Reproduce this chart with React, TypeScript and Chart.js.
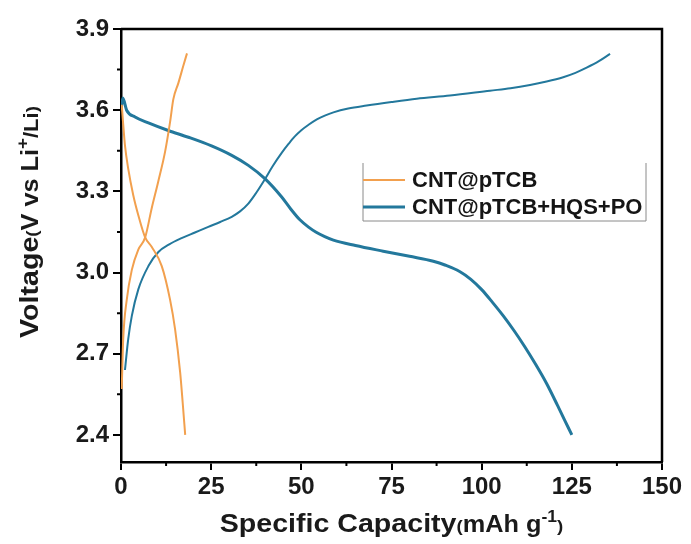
import React, { useEffect, useRef } from "react";
import { Chart, registerables } from "chart.js";

Chart.register(...registerables);

// ---------- data ----------
const seriesNames = ["CNT@pTCB", "CNT@pTCB+HQS+PO"];

const orangeChargeCap = [0.2, 0.6, 1.6, 3.0, 4.8, 6.7, 8.5, 10.3, 12.2, 13.6, 14.5, 15.9, 17.3, 18.3];
const orangeChargeV = [2.57, 2.75, 2.9, 3.01, 3.085, 3.13, 3.237, 3.335, 3.445, 3.556, 3.64, 3.7, 3.765, 3.81];

const orangeDischargeCap = [0.2, 0.6, 1.1, 2.0, 3.4, 4.8, 6.7, 8.5, 11.3, 13.6, 15.0, 16.4, 17.1, 17.8];
const orangeDischargeV = [3.62, 3.55, 3.47, 3.384, 3.286, 3.212, 3.13, 3.095, 3.024, 2.9, 2.79, 2.631, 2.52, 2.4];

const blueChargeCap = [1.1, 2.0, 3.0, 4.8, 7.6, 10.3, 13.5, 16.8, 20.5, 24.2, 27.5, 30.7, 33, 35.3, 37.5, 39.9, 42, 44.6, 46.5, 48.2, 50, 52, 54.3, 56.5, 58.9, 63, 68.1, 75, 82, 91.2, 102.3, 108, 113.4, 118, 122.6, 126, 129.1, 132.5, 135.6];
const blueChargeV = [2.64, 2.754, 2.84, 2.938, 3.024, 3.075, 3.105, 3.127, 3.148, 3.169, 3.187, 3.206, 3.226, 3.255, 3.295, 3.345, 3.392, 3.443, 3.476, 3.503, 3.526, 3.546, 3.566, 3.58, 3.592, 3.606, 3.617, 3.63, 3.642, 3.654, 3.672, 3.681, 3.693, 3.706, 3.722, 3.738, 3.757, 3.781, 3.808];

const blueDischargeCap = [0.0, 0.5, 1.6, 3.9, 7.6, 13.1, 18.7, 25.1, 30.7, 35.3, 39.9, 44.5, 47, 49.6, 52, 54, 56.5, 58.9, 65, 72.7, 80, 86.6, 90, 94, 97, 100, 103, 106, 109, 112, 115, 118, 121, 123, 125];
const blueDischargeV = [3.6, 3.645, 3.599, 3.575, 3.553, 3.525, 3.5, 3.468, 3.433, 3.396, 3.347, 3.28, 3.236, 3.195, 3.168, 3.15, 3.133, 3.12, 3.1, 3.079, 3.06, 3.042, 3.027, 3.003, 2.975, 2.937, 2.89, 2.84, 2.785, 2.725, 2.66, 2.59, 2.51, 2.455, 2.4];

const xMajorTicks = [0, 25, 50, 75, 100, 125, 150];
const xMinorTicks = [12.5, 37.5, 62.5, 87.5, 112.5, 137.5];
const yMajorTicks = [2.4, 2.7, 3.0, 3.3, 3.6, 3.9];
const yMinorTicks = [2.55, 2.85, 3.15, 3.45, 3.75];

const ORANGE = "#F2A04E";
const BLUE = "#23789C";
const FONT = '"Liberation Sans", Arial, sans-serif';

const toPts = (xs: number[], ys: number[]) => xs.map((x, i) => ({ x, y: ys[i] }));

type Seg = { t: string; size: number; sup?: boolean };

function drawRich(ctx: CanvasRenderingContext2D, segs: Seg[], cx: number, baseline: number, sx: number) {
  let total = 0;
  const widths = segs.map((s) => {
    ctx.font = `bold ${s.size}px ${FONT}`;
    const w = ctx.measureText(s.t).width;
    total += w;
    return w;
  });
  ctx.save();
  ctx.translate(cx, baseline);
  ctx.scale(sx, 1);
  let x = -total / 2;
  segs.forEach((s, i) => {
    ctx.font = `bold ${s.size}px ${FONT}`;
    ctx.textBaseline = "alphabetic";
    ctx.textAlign = "left";
    ctx.fillText(s.t, x, s.sup ? -10 : 0);
    x += widths[i];
  });
  ctx.restore();
}

const decorPlugin = {
  id: "decor",
  afterDraw(chart: any) {
    const { ctx, chartArea, scales } = chart;
    const xs = scales.x;
    const ys = scales.y;
    ctx.save();
    // frame top & right
    ctx.strokeStyle = "#000";
    ctx.lineWidth = 2.5;
    ctx.beginPath();
    ctx.moveTo(chartArea.left, chartArea.top);
    ctx.lineTo(chartArea.right, chartArea.top);
    ctx.lineTo(chartArea.right, chartArea.bottom);
    ctx.stroke();
    // minor ticks
    ctx.lineWidth = 2;
    ctx.beginPath();
    xMinorTicks.forEach((v) => {
      const p = xs.getPixelForValue(v);
      ctx.moveTo(p, chartArea.bottom);
      ctx.lineTo(p, chartArea.bottom + 4);
    });
    yMinorTicks.forEach((v) => {
      const p = ys.getPixelForValue(v);
      ctx.moveTo(chartArea.left, p);
      ctx.lineTo(chartArea.left - 4, p);
    });
    ctx.stroke();

    // legend
    const lx = chartArea.left + 242;
    const lr = chartArea.right - 16;
    const lt = chartArea.top + 134;
    const lb = chartArea.top + 192;
    ctx.strokeStyle = "#8a8a8a";
    ctx.lineWidth = 1;
    ctx.beginPath();
    ctx.moveTo(lx, lt);
    ctx.lineTo(lx, lb);
    ctx.lineTo(lr, lb);
    ctx.lineTo(lr, lt);
    ctx.stroke();
    const rows = [
      { name: seriesNames[0], color: ORANGE, w: 2, y: lt + 17 },
      { name: seriesNames[1], color: BLUE, w: 3, y: lt + 44 },
    ];
    rows.forEach((r) => {
      ctx.strokeStyle = r.color;
      ctx.lineWidth = r.w;
      ctx.beginPath();
      ctx.moveTo(lx, r.y);
      ctx.lineTo(lx + 42, r.y);
      ctx.stroke();
      ctx.fillStyle = "#151515";
      ctx.font = `bold 22px ${FONT}`;
      ctx.textAlign = "left";
      ctx.textBaseline = "middle";
      ctx.fillText(r.name, lx + 49, r.y + 1);
    });

    // axis titles
    ctx.fillStyle = "#1a1a1a";
    drawRich(
      ctx,
      [
        { t: "Specific Capacity", size: 26 },
        { t: "(", size: 17 },
        { t: "mAh g", size: 23 },
        { t: "-1", size: 16, sup: true },
        { t: ")", size: 17 },
      ],
      (chartArea.left + chartArea.right) / 2,
      532,
      1.1
    );
    ctx.save();
    ctx.translate(38, 222);
    ctx.rotate(-Math.PI / 2);
    drawRich(
      ctx,
      [
        { t: "Voltage", size: 26 },
        { t: "(", size: 17 },
        { t: "V vs Li", size: 23 },
        { t: "+", size: 17, sup: true },
        { t: "/Li", size: 20 },
        { t: ")", size: 17 },
      ],
      0,
      0,
      1.1
    );
    ctx.restore();
    ctx.restore();
  },
};

export default function App() {
  const ref = useRef<HTMLCanvasElement | null>(null);
  useEffect(() => {
    if (!ref.current) return;
    const tickFont = { family: FONT, size: 24, weight: "bold" as const };
    const chart = new Chart(ref.current, {
      type: "scatter",
      data: {
        datasets: [
          { label: seriesNames[0], data: toPts(orangeChargeCap, orangeChargeV), borderColor: ORANGE, borderWidth: 2 },
          { label: seriesNames[0] + " discharge", data: toPts(orangeDischargeCap, orangeDischargeV), borderColor: ORANGE, borderWidth: 2 },
          { label: seriesNames[1], data: toPts(blueChargeCap, blueChargeV), borderColor: BLUE, borderWidth: 2 },
          { label: seriesNames[1] + " discharge", data: toPts(blueDischargeCap, blueDischargeV), borderColor: BLUE, borderWidth: 3 },
        ].map((d) => ({
          ...d,
          showLine: true,
          pointRadius: 0,
          fill: false,
          cubicInterpolationMode: "monotone" as const,
          backgroundColor: d.borderColor,
        })),
      },
      options: {
        responsive: false,
        animation: false,
        devicePixelRatio: 1,
        layout: { padding: { left: 0, right: 29, top: 29, bottom: 0 } },
        plugins: { legend: { display: false }, tooltip: { enabled: false } },
        scales: {
          x: {
            type: "linear",
            min: 0,
            max: 150,
            afterBuildTicks: (s: any) => {
              s.ticks = xMajorTicks.map((v) => ({ value: v }));
            },
            afterFit: (s: any) => {
              s.height = 82;
            },
            ticks: { font: tickFont, color: "#1a1a1a", padding: 3, maxRotation: 0, autoSkip: false, callback: (v: any) => String(v) },
            grid: { display: true, drawOnChartArea: false, drawTicks: true, tickLength: 8, color: "#000", lineWidth: 2 },
            border: { display: true, color: "#000", width: 2.5 },
          },
          y: {
            type: "linear",
            min: 2.3,
            max: 3.9,
            afterBuildTicks: (s: any) => {
              s.ticks = yMajorTicks.map((v) => ({ value: v }));
            },
            afterFit: (s: any) => {
              s.width = 121;
            },
            ticks: { font: tickFont, color: "#1a1a1a", padding: 4, autoSkip: false, callback: (v: any) => Number(v).toFixed(1) },
            grid: { display: true, drawOnChartArea: false, drawTicks: true, tickLength: 8, color: "#000", lineWidth: 2 },
            border: { display: true, color: "#000", width: 2.5 },
          },
        },
      },
      plugins: [decorPlugin],
    });
    return () => chart.destroy();
  }, []);
  return (
    <div style={{ position: "absolute", left: 0, top: 0, width: 691, height: 544, background: "#fff" }}>
      <canvas ref={ref} width={691} height={544} style={{ width: 691, height: 544, display: "block" }} />
    </div>
  );
}
